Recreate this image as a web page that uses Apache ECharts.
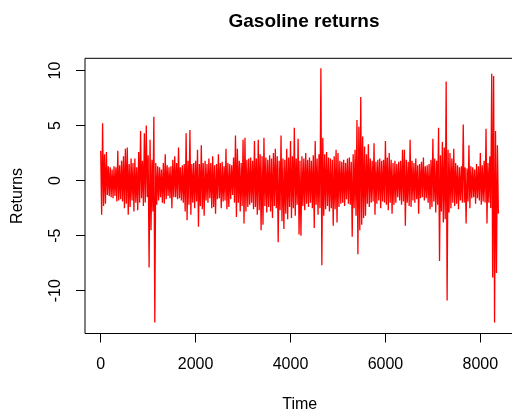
<!DOCTYPE html>
<html>
<head>
<meta charset="utf-8">
<script src="https://cdn.jsdelivr.net/npm/echarts@6/dist/echarts.min.js"></script>
<style>html,body{margin:0;padding:0;background:#fff}#c{width:512px;height:412px}</style>
</head>
<body>
<div id="c"></div>
<script>
// Envelope of the return series: one high and one low per 40 time steps
const stepLen = 40;
const highs = [
 2.7,5.2,2.4,2.6,1.3,1.2,1.0,1.3,1.2,2.7,1.4,1.8,2.2,2.9,3.0,1.5,2.0,1.6,2.0,1.2,
 2.6,4.5,1.8,4.3,5.0,2.3,3.7,1.9,5.8,1.6,1.3,1.2,1.0,
 1.6,2.4,1.4,1.2,1.3,1.9,2.2,1.6,3.0,1.2,1.4,1.5,4.3,1.8,4.6,1.5,1.6,1.8,2.8,1.5,
 3.2,1.6,1.8,1.5,2.0,1.6,2.2,1.4,1.5,2.4,1.6,1.7,1.3,2.9,1.6,1.5,
 1.4,2.1,4.1,2.9,1.8,1.6,3.7,3.9,1.9,2.0,2.1,1.8,3.6,2.0,3.7,2.4,2.2,3.9,2.1,1.9,
 2.3,2.0,2.5,2.9,2.2,1.8,4.1,2.0,1.9,2.9,2.1,3.6,2.2,4.8,2.0,3.8,
 1.8,2.2,2.0,2.5,1.9,2.1,1.8,2.3,3.6,2.0,2.4,10.2,3.9,2.4,2.6,2.1,2.0,1.9,2.2,2.8,
 2.5,1.8,1.7,1.9,1.6,2.0,2.1,1.7,2.4,2.8,5.5,4.9,7.6,4.0,3.1,2.4,
 3.3,2.0,1.8,3.4,1.7,1.9,2.0,1.8,1.9,3.6,2.1,2.5,1.9,1.6,1.8,1.5,1.7,1.8,2.8,2.8,
 1.9,1.7,3.7,1.8,1.6,2.0,1.4,1.5,1.7,2.1,1.3,1.4,1.5,1.9,3.8,
 2.0,1.8,4.8,2.3,3.5,3.0,9.0,2.8,2.5,2.0,2.9,1.6,1.4,1.2,1.3,5.1,1.2,1.1,3.2,1.3,
 1.2,1.0,1.5,1.3,2.5,1.4,1.8,4.7,1.6,2.2,9.7,9.5,4.5,3.2
];
const lows = [
 -3.1,-2.3,-2.1,-1.3,-1.4,-1.5,-1.6,-1.4,-1.9,-1.8,-1.7,-1.9,-2.5,-2.1,-3.1,-2.4,-1.8,-2.8,-2.0,-2.7,
 -2.0,-1.6,-2.3,-2.0,-1.5,-7.9,-4.5,-2.8,-12.9,-2.2,-1.8,-1.5,-2.0,
 -2.1,-1.7,-1.4,-1.6,-2.5,-1.5,-1.5,-1.7,-1.6,-1.8,-2.0,-2.8,-3.6,-2.2,-3.1,-2.0,-2.5,-1.9,-4.2,-2.3,
 -2.6,-3.2,-1.8,-2.0,-1.6,-2.5,-2.4,-3.0,-1.7,-1.6,-2.5,-1.9,-1.8,-2.6,-2.4,-1.7,
 -1.3,-2.0,-3.3,-2.0,-2.8,-2.3,-3.9,-2.8,-2.4,-2.2,-2.0,-2.6,-2.4,-3.1,-2.7,-4.5,-4.0,-2.3,-2.9,-2.4,
 -2.8,-3.4,-2.3,-2.5,-5.6,-2.7,-3.7,-4.4,-3.0,-3.5,-2.4,-3.4,-2.5,-3.2,-2.2,-4.9,
 -5.0,-2.3,-2.7,-2.1,-2.4,-2.0,-2.5,-4.3,-2.2,-3.1,-2.5,-7.7,-3.2,-2.6,-2.3,-2.8,-2.5,-4.1,-2.6,-3.8,
 -2.4,-2.1,-2.0,-2.3,-1.7,-2.1,-2.2,-5.1,-2.5,-3.2,-6.7,-4.5,-4.0,-3.4,-3.2,-2.1,
 -2.4,-2.0,-1.9,-3.1,-2.1,-1.8,-2.5,-1.9,-2.0,-2.2,-2.7,-2.0,-3.0,-2.2,-2.0,-1.5,-1.8,-2.2,-1.9,-4.1,
 -2.0,-2.3,-2.4,-1.8,-2.0,-1.7,-3.0,-1.6,-1.5,-1.8,-1.6,-2.0,-2.6,-2.4,-1.9,
 -2.9,-2.2,-7.3,-2.8,-3.8,-3.5,-10.9,-2.9,-2.5,-2.0,-2.3,-2.1,-2.6,-1.8,-2.0,-2.0,-3.9,-1.9,-2.5,-1.6,
 -1.5,-2.1,-1.6,-1.8,-2.2,-1.9,-2.0,-3.9,-2.0,-2.5,-8.8,-12.9,-8.4,-3.0
];
const xTicks = [0, 2000, 4000, 6000, 8000];
const yTicks = [-10, -5, 0, 5, 10];

const series = [];
for (let i = 0; i < highs.length; i++) {
  series.push([i * stepLen, highs[i]]);
  series.push([i * stepLen + stepLen / 2, lows[i]]);
}

const FONT = '"Liberation Sans", Arial, sans-serif';
const chart = echarts.init(document.getElementById('c'), null, {renderer: 'canvas'});
chart.setOption({
  animation: false,
  backgroundColor: '#fff',
  title: {
    text: 'Gasoline returns',
    left: 299, top: 7, textAlign: 'center',
    textStyle: {fontFamily: FONT, fontSize: 19, fontWeight: 'bold', color: '#000'}
  },
  grid: {
    left: 85, top: 58.3, width: 429.5, height: 275.2,
    outerBoundsMode: 'none', containLabel: false,
    show: true, borderColor: '#000', borderWidth: 1, backgroundColor: 'transparent'
  },
  xAxis: {
    type: 'value', min: -331, max: 8720,
    name: 'Time', nameLocation: 'middle', nameGap: 63,
    nameTextStyle: {fontFamily: FONT, fontSize: 16, color: '#000'},
    axisLine: {show: false, onZero: false},
    splitLine: {show: false},
    axisTick: {show: true, length: 9, customValues: xTicks, lineStyle: {color: '#000'}},
    axisLabel: {customValues: xTicks, margin: 23, fontFamily: FONT, fontSize: 16, color: '#000',
      formatter: v => String(v)}
  },
  yAxis: {
    type: 'value', min: -13.89, max: 11.11,
    name: 'Returns', nameLocation: 'middle', nameGap: 59,
    nameTextStyle: {fontFamily: FONT, fontSize: 16, color: '#000'},
    axisLine: {show: false, onZero: false},
    splitLine: {show: false},
    axisTick: {show: true, length: 9, customValues: yTicks, lineStyle: {color: '#000'}},
    axisLabel: {customValues: yTicks, rotate: 90, margin: 21, fontFamily: FONT, fontSize: 16, color: '#000',
      formatter: v => String(v)}
  },
  series: [{
    type: 'line', data: series, showSymbol: false, sampling: null,
    lineStyle: {color: '#ff0000', width: 1.3}, itemStyle: {color: '#ff0000'},
    z: 2
  }]
});
</script>
</body>
</html>
